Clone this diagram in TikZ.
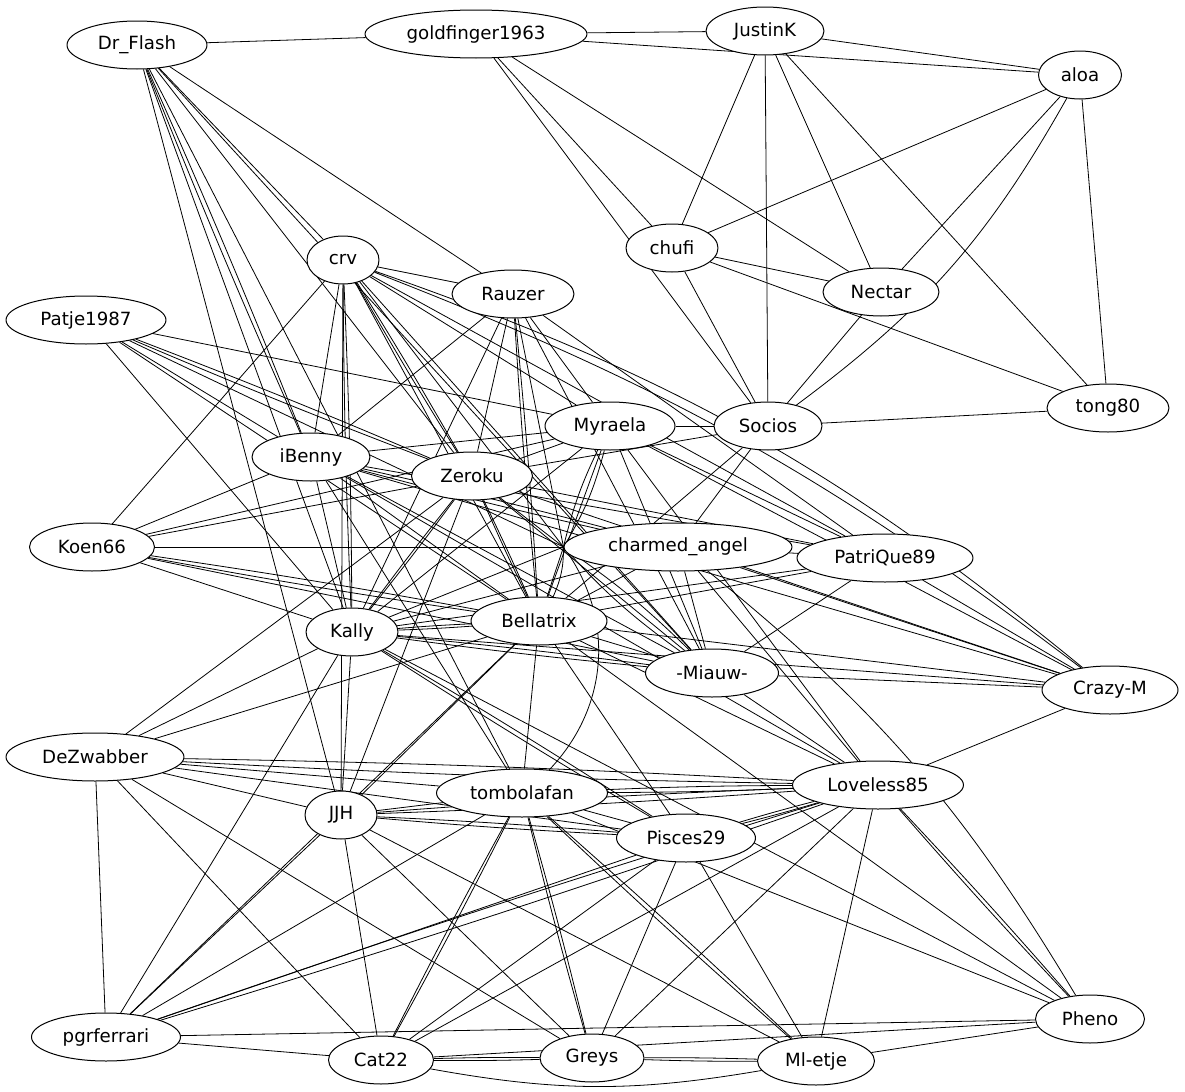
\documentclass[tikz,border=0pt]{standalone}
\usepackage{fontspec}
\newfontfamily\dejavu{DejaVu Sans}
\usetikzlibrary{shapes.geometric,backgrounds}
\begin{document}
\begin{tikzpicture}[x=0.5pt,y=-0.5pt,line join=round,line cap=round,line width=0.5pt,
	user/.style={ellipse,draw,fill=white,inner sep=0pt,minimum height=24pt,font=\dejavu\fontsize{9.1}{11}\selectfont}]
	\useasboundingbox (0,0) rectangle (1185,1092);
	% the users
	\foreach \n/\x/\y/\w/\t in {DrF/137/45/70/Dr\_Flash,gold/476/34/111/goldfinger1963,Just/765/31/59/JustinK,
		aloa/1080/75/41.5/aloa,chufi/672/248/46/chufi,crv/343/260/36/crv,Rauz/513/294/61/Rauzer,
		Nect/881/292/58/Nectar,Patje/86/320/80/Patje1987,Myra/610/426/65/Myraela,Soc/768/426/54/Socios,
		tong/1108/408/61/tong80,iBen/311/457/59/iBenny,Zero/472/476/60.5/Zeroku,Koen/92/547/62.5/Koen66,
		cha/678/547/114/charmed\_angel,Patri/885/558/88/PatriQue89,Kally/352/632/46/Kally,
		Bell/539/621/68/Bellatrix,Miauw/712/673/66.5/-Miauw-,Crazy/1110/690/68/Crazy-M,
		DeZ/95/757/89/DeZwabber,tomb/522/793/85.5/tombolafan,JJH/341/815/36/JJH,
		Love/878/785/85.5/Loveless85,Pisc/686/838/69.5/Pisces29,Pheno/1090/1019/54.5/Pheno,
		pgr/106/1037/74.5/pgrferrari,Cat/381/1060/52.5/Cat22,Greys/592/1058/52/Greys,Ml/816/1061/58.5/Ml-etje}
		\node[user,minimum width=\w pt] (\n) at (\x,\y) {\t};
	\begin{pgfonlayer}{background}
	% single links
	\foreach \a/\b in {DrF/gold,gold/Just,gold/aloa,Just/aloa,gold/Soc,gold/chufi,gold/Nect,Just/chufi,
		Just/Soc,Just/Nect,Just/tong,aloa/chufi,aloa/Nect,aloa/tong,chufi/Nect,chufi/tong,chufi/Soc,
		Nect/Soc,Soc/tong,
		DrF/crv,DrF/Rauz,DrF/Kally,DrF/Zero,DrF/Miauw,DrF/JJH,DrF/tomb,
		Patje/iBen,Patje/Kally,Patje/Bell,Patje/Myra,
		Koen/crv,Koen/iBen,Koen/Zero,Koen/Myra,Koen/Kally,Koen/Miauw,
		crv/Rauz,crv/iBen,crv/JJH,crv/Bell,crv/Myra,crv/Miauw,crv/Patri,
		Rauz/iBen,Rauz/Kally,Rauz/Zero,Rauz/Myra,Rauz/Patri,Rauz/Miauw,
		iBen/Myra,iBen/Patri,iBen/Bell,iBen/Miauw,iBen/Kally,iBen/Crazy,iBen/Love,iBen/tomb,
		Zero/Myra,Zero/Soc,Zero/Patri,Zero/Miauw,Zero/JJH,Zero/DeZ,Zero/Crazy,
		Myra/Soc,Myra/Bell,Myra/Kally,Myra/Patri,Myra/Crazy,Myra/Love,Myra/Miauw,
		Soc/cha,Soc/Bell,
		cha/Bell,cha/Kally,cha/Miauw,cha/Patri,cha/Crazy,cha/Love,
		Patri/Kally,Patri/Bell,Patri/Miauw,Patri/Crazy,
		Kally/Crazy,Kally/DeZ,Kally/JJH,Kally/Pheno,Kally/pgr,
		Bell/Miauw,Bell/Crazy,Bell/DeZ,Bell/JJH,Bell/tomb,Bell/Pisc,Bell/Love,Bell/pgr,Bell/Pheno,
		Miauw/Crazy,Miauw/Love,Crazy/Love,
		DeZ/tomb,DeZ/JJH,DeZ/Pisc,DeZ/pgr,DeZ/Cat,DeZ/Greys,
		JJH/tomb,JJH/pgr,JJH/Cat,JJH/Greys,JJH/Ml,
		tomb/Pisc,tomb/pgr,tomb/Pheno,
		Love/Cat,Love/Greys,Love/Ml,
		Pisc/pgr,Pisc/Cat,Pisc/Greys,Pisc/Ml,
		pgr/Cat,pgr/Pheno,Cat/Pheno,Ml/Pheno}
		\draw (\a) -- (\b);
	% double links
	\foreach \a/\b in {DrF/iBen,Patje/Zero,Koen/Bell,crv/Kally,crv/Zero,Rauz/Bell,iBen/cha,Zero/Bell,
		Zero/Kally,Kally/Bell,Kally/Miauw,Kally/Pisc,DeZ/Love,JJH/Pisc,JJH/Love,tomb/Love,tomb/Cat,
		tomb/Greys,tomb/Ml,Love/Pisc,Love/pgr,Love/Pheno,Cat/Greys,Greys/Ml}{
		\draw (\a) to[bend left=1] (\b);
		\draw (\a) to[bend right=1] (\b);}
	% links meeting at the left tip of charmed_angel
	\foreach \a in {Patje,Koen,crv,Rauz,Zero,Kally,Bell}
		\draw (\a) -- (cha.west);
	\foreach \a/\g in {Myra/8,Myra/-6,Miauw/6,Miauw/-5,Bell/-12}
		\draw (\a) to[bend left=\g] (cha.west);
	\draw (tomb) to[bend right=40] (cha.west);
	% curved links
	\draw (aloa) to[bend left=12] (Soc);
	\draw (crv) to[bend left=8] (Crazy) (crv) to[bend left=10] (Crazy);
	\draw (cha) to[bend left=10] (Pheno);
	\draw (Cat) to[bend right=10] (Ml);
	\end{pgfonlayer}
\end{tikzpicture}
\end{document}
